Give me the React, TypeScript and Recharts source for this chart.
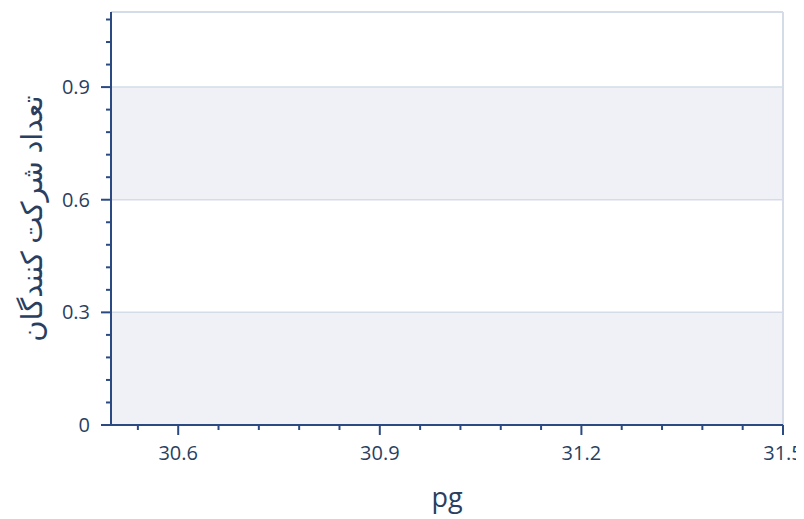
import React from "react";
import { ComposedChart, XAxis, YAxis, Scatter, ReferenceArea, ReferenceLine } from "recharts";

const xTicks = [30.54, 30.6, 30.66, 30.72, 30.78, 30.84, 30.9, 30.96, 31.02, 31.08, 31.14, 31.2, 31.26, 31.32, 31.38, 31.44, 31.5];
const xMajor = [30.6, 30.9, 31.2, 31.5];
const yTicks = [0, 0.06, 0.12, 0.18, 0.24, 0.3, 0.36, 0.42, 0.48, 0.54, 0.6, 0.66, 0.72, 0.78, 0.84, 0.9, 0.96, 1.02, 1.08];
const yMajor = [0, 0.3, 0.6, 0.9];
const gridLines = [0.3, 0.6, 0.9];
const bands: [number, number][] = [[0, 0.3], [0.6, 0.9]];
const xDomain: [number, number] = [30.5, 31.5];
const yDomain: [number, number] = [0, 1.1];
const points: { x: number; y: number }[] = [];

const xTitle = "pg";
const yTitle = "تعداد شرکت کنندگان";

const AXIS = "#2c4a82";
const TEXT = "#2a3f5f";
const GRID = "#d5dce7";
const BAND = "#f0f1f6";
const FONT = '"Open Sans", "Noto Sans", "DejaVu Sans", sans-serif';
const TS = 10;
const TM = 11;

const isMajor = (v: number, majors: number[]) => majors.some((m) => Math.abs(m - v) < 1e-9);
const fmt = (v: number) => String(Number(v.toFixed(2)));

const XTick = (props: any) => {
  const { x, y, payload } = props;
  const v = payload.value;
  const ay = y - TS - TM;
  const major = isMajor(v, xMajor);
  return (
    <g>
      <line x1={x} x2={x} y1={ay} y2={ay + (major ? 10 : 5)} stroke={AXIS} strokeWidth={2} />
      {major && (
        <text x={x} y={y} dy="0.71em" textAnchor="middle" fill={TEXT} fontSize={20} fontFamily={FONT}>
          {fmt(v)}
        </text>
      )}
    </g>
  );
};

const YTick = (props: any) => {
  const { x, y, payload } = props;
  const v = payload.value;
  const ax = x + TS + TM;
  const major = isMajor(v, yMajor);
  return (
    <g>
      <line x1={ax - (major ? 10 : 5)} x2={ax} y1={y} y2={y} stroke={AXIS} strokeWidth={2} />
      {major && (
        <text x={x} y={y} dy="0.355em" textAnchor="end" fill={TEXT} fontSize={20} fontFamily={FONT}>
          {fmt(v)}
        </text>
      )}
    </g>
  );
};

export default function App() {
  return (
    <div style={{ width: 796, height: 511, background: "#fff" }}>
      <ComposedChart width={796} height={511} margin={{ top: 4, right: 21, left: 0, bottom: 0 }}>
        {bands.map(([a, b], i) => (
          <ReferenceArea key={i} y1={a} y2={b} fill={BAND} fillOpacity={1} stroke="none" ifOverflow="visible" />
        ))}
        {gridLines.map((g) => (
          <ReferenceLine key={g} y={g} stroke={GRID} strokeWidth={1.5} />
        ))}
        <ReferenceLine y={yDomain[1]} stroke={GRID} strokeWidth={2} />
        <ReferenceLine x={xDomain[1]} stroke={GRID} strokeWidth={2} />
        <XAxis
          type="number"
          dataKey="x"
          domain={xDomain}
          ticks={xTicks}
          interval={0}
          allowDataOverflow
          height={94}
          tickSize={TS}
          tickMargin={TM}
          tickLine={false}
          axisLine={{ stroke: AXIS, strokeWidth: 2 }}
          tick={<XTick />}
          label={{
            content: (p: any) => {
              const vb = p.viewBox;
              return (
                <text x={vb.x + vb.width / 2} y={vb.y + 82} textAnchor="middle" fill={TEXT} fontSize={27} fontFamily={FONT}>
                  {xTitle}
                </text>
              );
            },
          }}
        />
        <YAxis
          type="number"
          dataKey="y"
          domain={yDomain}
          ticks={yTicks}
          interval={0}
          allowDataOverflow
          width={103}
          tickSize={TS}
          tickMargin={TM}
          tickLine={false}
          axisLine={{ stroke: AXIS, strokeWidth: 2 }}
          tick={<YTick />}
          label={{
            content: (p: any) => {
              const vb = p.viewBox;
              const cx = vb.x + 22;
              const cy = vb.y + vb.height / 2;
              return (
                <text
                  x={cx}
                  y={cy}
                  textAnchor="middle"
                  dominantBaseline="central"
                  transform={`rotate(-90, ${cx}, ${cy})`}
                  fill={TEXT}
                  fontSize={29}
                  fontFamily={FONT}
                >
                  {yTitle}
                </text>
              );
            },
          }}
        />
        <Scatter data={points} dataKey="y" fill={AXIS} isAnimationActive={false} />
      </ComposedChart>
    </div>
  );
}
